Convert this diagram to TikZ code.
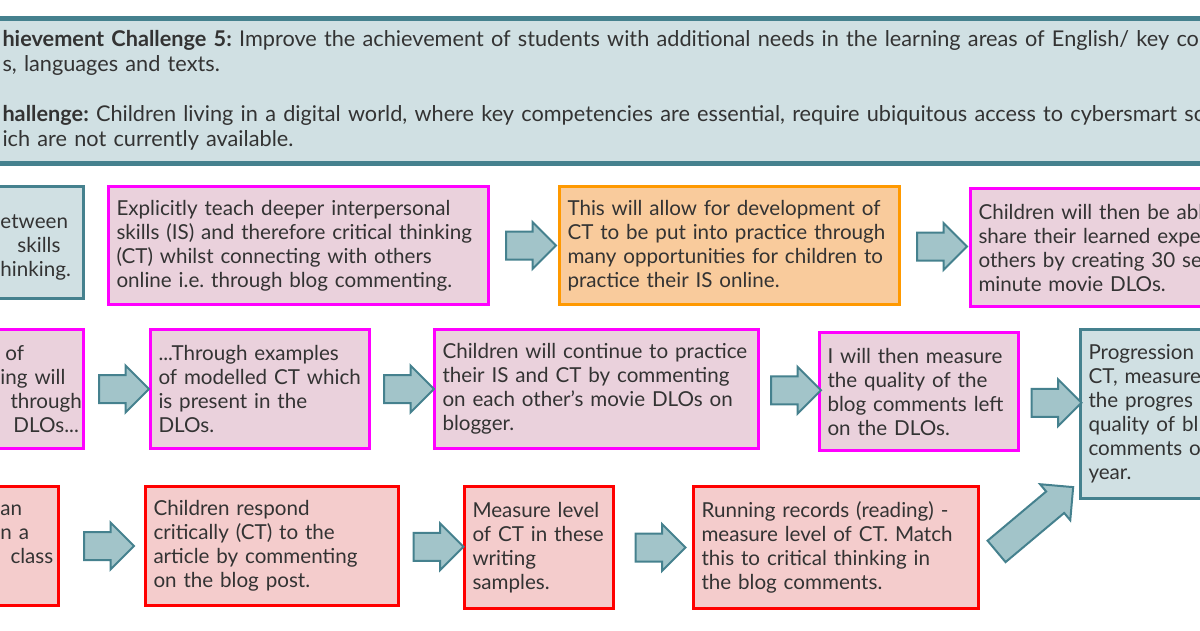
\documentclass[tikz,border=0pt]{standalone}
\usepackage{fontspec}
\setmainfont{Lato}
\usetikzlibrary{shapes.arrows, calc}
\frenchspacing

\definecolor{azulborde}{HTML}{45818E}
\definecolor{azulfondo}{HTML}{D0E0E3}
\definecolor{azulflecha}{HTML}{A2C4C9}
\definecolor{rosaborde}{HTML}{FF00FF}
\definecolor{rosafondo}{HTML}{EAD1DC}
\definecolor{naranjaborde}{HTML}{FF9900}
\definecolor{naranjafondo}{HTML}{F9CB9C}
\definecolor{rojoborde}{HTML}{FF0000}
\definecolor{rojofondo}{HTML}{F4CCCC}
\definecolor{texto}{HTML}{333333}

\begin{document}
\begin{tikzpicture}[
    x=1pt, y=-1pt,
    caja/.style={draw, line width=3pt, anchor=north west, align=left,
        inner xsep=8pt, inner ysep=0pt, text=texto,
        font=\fontsize{20.6}{24}\selectfont},
    tam/.code 2 args={\pgfmathsetmacro\anchotexto{#1-16}%
        \tikzset{minimum width=#1pt, minimum height=#2pt, text width=\anchotexto pt}},
    azul/.style={caja, draw=azulborde, fill=azulfondo},
    rosa/.style={caja, draw=rosaborde, fill=rosafondo},
    naranja/.style={caja, draw=naranjaborde, fill=naranjafondo},
    rojo/.style={caja, draw=rojoborde, fill=rojofondo},
    flecha/.style={single arrow, draw=azulborde, fill=azulflecha, line width=2pt,
        minimum height=50pt, single arrow head extend=9.5pt,
        inner xsep=0pt, inner ysep=13pt}
]

% Marco de la imagen
\useasboundingbox (0,0) rectangle (1200,630);
\clip (0,0) rectangle (1200,630);

% Reto de logro (cabecera)
\node[azul, line width=5pt, minimum width=1230pt, minimum height=145pt,
    text width=1400pt, inner xsep=12pt, font=\fontsize{21.7}{25}\selectfont]
    (reto) at (-12,15.5) {\textbf{hievement Challenge 5:} Improve the achievement of students with additional needs in the learning areas of English/ key co\\
    s, languages and texts.\\
    \mbox{}\\
    \textbf{hallenge:} Children living in a digital world, where key competencies are essential, require ubiquitous access to cybersmart so\\
    ich are not currently available.};

% Fila 1
\node[azul, tam={91}{112}] (izq1) at (-9,185) {\mbox{}\\etween\\\hspace*{17pt}skills\\hinking.};
\node[rosa, tam={380}{118}] (b1) at (107,185) {Explicitly teach deeper interpersonal\\skills (IS) and therefore critical thinking\\(CT) whilst connecting with others\\online i.e. through blog commenting.};
\node[naranja, tam={340}{118}] (b2) at (558,185) {This will allow for development of\\CT to be put into practice through\\many opportunities for children to\\practice their IS online.};
\node[rosa, tam={300}{118}] (b3) at (969,187) {Children will then be abl\\share their learned expe\\others by creating 30 se\\minute movie DLOs.};

% Fila 2
\node[rosa, tam={91}{119}] (izq2) at (-9,328) {\hspace*{5pt}of\\ing will\\\hspace*{10pt}through\\\hspace*{13pt}DLOs...};
\node[rosa, tam={219}{119}] (b4) at (149,328) {...Through examples\\of modelled CT which\\is present in the\\DLOs.};
\node[rosa, tam={324}{119}] (b5) at (433,328) {Children will continue to practice\\their IS and CT by commenting\\on each other's movie DLOs on\\blogger.};
\node[rosa, tam={199}{118}] (b6) at (818,331) {I will then measure\\the quality of the\\blog comments left\\on the DLOs.};
\node[azul, tam={160}{169}] (b7) at (1079,328) {Progression\\CT, measure\\the progres\\quality of bl\\comments o\\year.};

% Fila 3
\node[rojo, tam={66}{119}] (izq3) at (-9,485) {an\\n a\\\hspace*{10pt}class\\\mbox{}};
\node[rojo, tam={253}{119}] (b8) at (144,485) {Children respond\\critically (CT) to the\\article by commenting\\on the blog post.};
\node[rojo, tam={149}{122}] (b9) at (463,485) {Measure level\\of CT in these\\writing\\samples.};
\node[rojo, tam={285}{122}] (b10) at (692,485) {Running records (reading) -\\measure level of CT. Match\\this to critical thinking in\\the blog comments.};

% Flechas entre cajas
\node[flecha] (f1) at ($(b1.east)!0.5!(b2.west)$) {};
\node[flecha] (f2) at ($(b2.east)!0.5!(b3.west)$) {};
\node[flecha] (f3) at ($(izq2.east)!0.5!(b4.west)$) {};
\node[flecha] (f4) at ($(b4.east)!0.5!(b5.west)$) {};
\node[flecha] (f5) at ($(b5.east)!0.5!(b6.west)$) {};
\node[flecha] (f6) at ($(b6.east)!0.5!(b7.west)$) {};
\node[flecha] (f7) at ($(izq3.east)!0.5!(b8.west)$) {};
\node[flecha] (f8) at ($(b8.east)!0.5!(b9.west)$) {};
\node[flecha] (f9) at ($(b9.east)!0.5!(b10.west)$) {};
\node[flecha, rotate=40, minimum height=100pt] (f10) at ($(b10.east)!0.5!(b7.south west)$) {}; % Diagonal

\end{tikzpicture}
\end{document}
